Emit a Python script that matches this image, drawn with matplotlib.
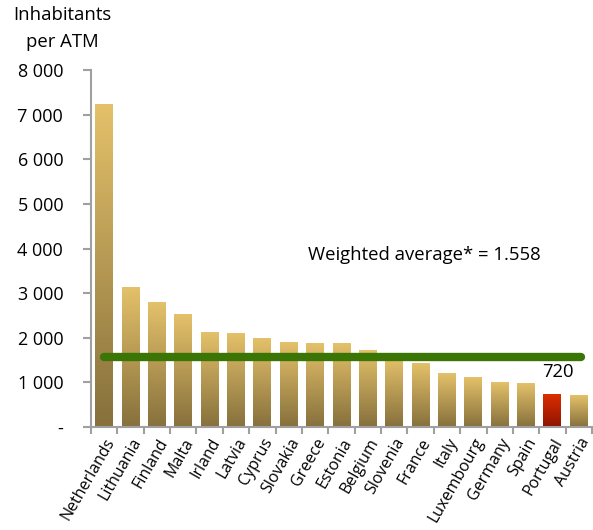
import numpy as np
import matplotlib
matplotlib.use("Agg")
import matplotlib.pyplot as plt
from matplotlib.colors import LinearSegmentedColormap

countries = ["Netherlands", "Lithuania", "Finland", "Malta", "Irland", "Latvia",
             "Cyprus", "Slovakia", "Greece", "Estonia", "Belgium", "Slovenia",
             "France", "Italy", "Luxembourg", "Germany", "Spain", "Portugal", "Austria"]
inhabitants = [7220, 3120, 2800, 2510, 2110, 2085, 1975, 1885, 1865, 1865, 1705,
               1530, 1415, 1210, 1100, 990, 965, 720, 695]
weighted_avg = 1558
highlight = "Portugal"
yticks = [0, 1000, 2000, 3000, 4000, 5000, 6000, 7000, 8000]
yticklabels = ["-", "1 000", "2 000", "3 000", "4 000", "5 000", "6 000", "7 000", "8 000"]

plt.rcParams['font.family'] = ['Open Sans', 'DejaVu Sans']

gold = LinearSegmentedColormap.from_list("gold", ["#86703c", "#e4c16a"])
red = LinearSegmentedColormap.from_list("red", ["#8e1400", "#dc2e00"])

fig = plt.figure(figsize=(5.93, 5.30), dpi=100)
ax = fig.add_axes([91/593, 1 - 427/530, 501/593, (427 - 70)/530])

x = np.arange(len(countries))
width = 0.68
bars = ax.bar(x, inhabitants, width=width, color="none", zorder=2)

# vertical gradient inside every bar
grad = np.linspace(0, 1, 256).reshape(-1, 1)
for name, b in zip(countries, bars):
    x0, y0 = b.get_x(), b.get_y()
    w, h = b.get_width(), b.get_height()
    cmap = red if name == highlight else gold
    ax.imshow(grad, extent=[x0, x0 + w, y0, y0 + h], origin="lower",
              aspect="auto", cmap=cmap, zorder=2)

ax.plot([0, 18.1], [weighted_avg, weighted_avg], color="#3a7505", lw=6,
        solid_capstyle="round", zorder=3)
ax.text(12.15, 3850, "Weighted average* = " + f"{weighted_avg/1000:.3f}",
        ha="center", va="center", fontsize=13.3)
i = countries.index(highlight)
ax.text(i + 0.2, 1233, str(inhabitants[i]), ha="center",
        va="center", fontsize=13.3)

ax.set_xlim(-0.5, len(countries) - 0.5)
ax.set_ylim(0, 8000)
ax.set_yticks(yticks)
ax.set_yticklabels(yticklabels, fontsize=13)
ax.set_xticks(x)
ax.set_xticklabels(countries, rotation=60, ha="right", va="top",
                   rotation_mode="anchor", fontsize=11.5)
ax.set_xticks(np.arange(-0.5, len(countries), 1), minor=True)
ax.tick_params(axis="x", which="major", length=0, pad=6)
ax.tick_params(axis="x", which="minor", length=5, width=1.5, color="#a0a0a0")
ax.tick_params(axis="y", length=6, width=1.5, color="#a0a0a0", pad=14)

for s in ["top", "right"]:
    ax.spines[s].set_visible(False)
for s in ["left", "bottom"]:
    ax.spines[s].set_color("#a0a0a0")
    ax.spines[s].set_linewidth(1.5)

fig.text(62/593, 1 - 15/530, "Inhabitants", ha="center", va="center", fontsize=13.3)
fig.text(62/593, 1 - 42/530, "per ATM", ha="center", va="center", fontsize=13.3)

fig.savefig("out.png", dpi=100)
